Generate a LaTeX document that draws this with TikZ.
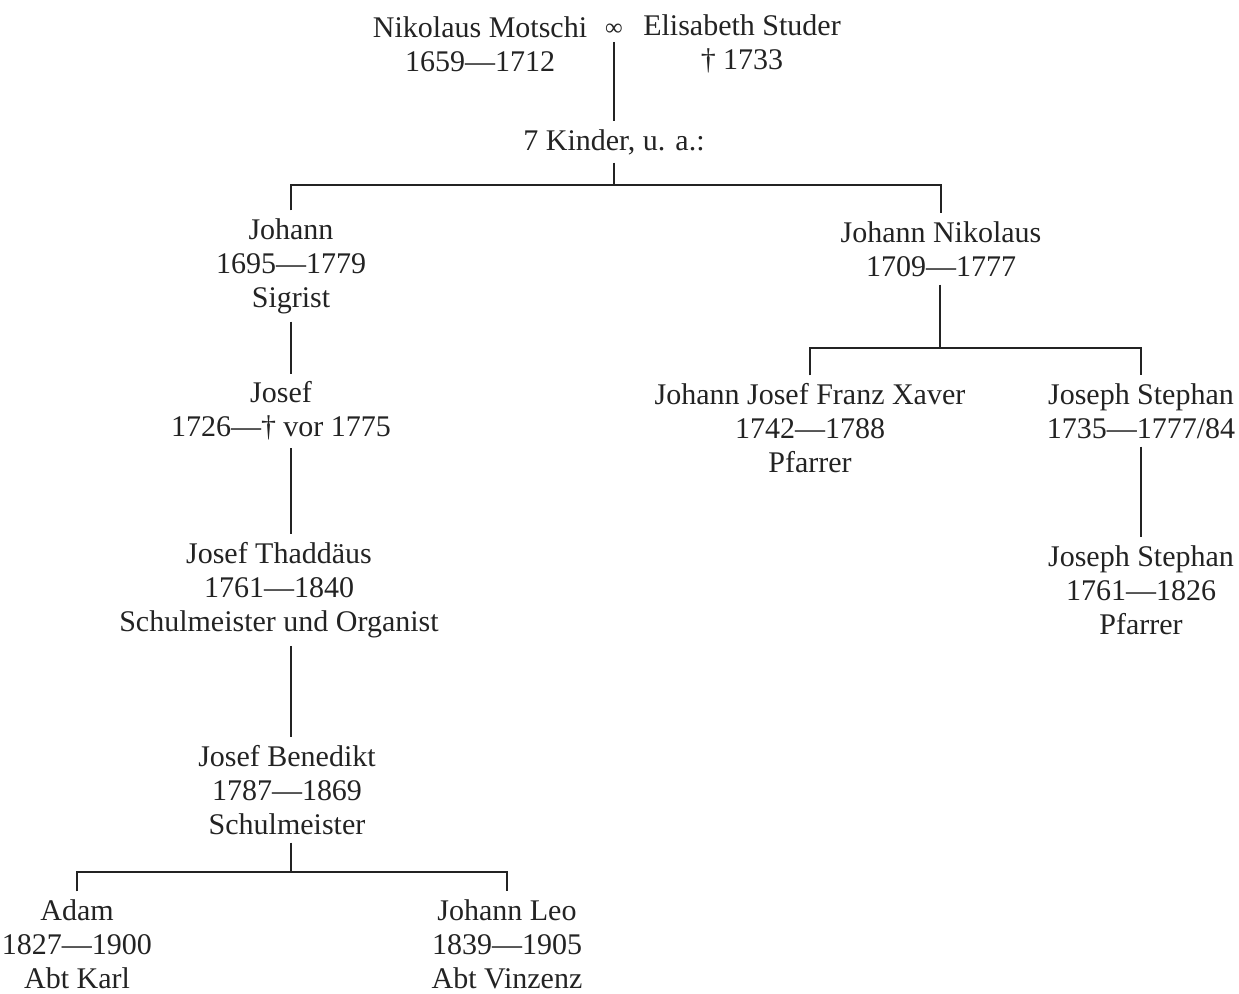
\documentclass[tikz,border=0pt]{standalone}
\usepackage{fontspec}
\setmainfont{Liberation Serif}
\definecolor{ink}{RGB}{35,35,35}
\tikzset{
  person/.style={align=center,inner sep=0pt,outer sep=4pt,text=ink,
    font=\fontsize{15}{17}\selectfont},
  stem/.style={draw=ink,line width=0.6pt}
}

\begin{document}
\begin{tikzpicture}[x=0.5pt,y=-0.5pt]
\useasboundingbox (0,0) rectangle (1239,994);

% parents
\node[person] (motschi) at (480,44) {Nikolaus Motschi\\1659—1712};
\node[person] (studer)  at (742,44) {Elisabeth Studer\\† 1733};
\node[text=ink,inner sep=0pt,outer sep=3pt,font=\fontsize{12}{12}\bfseries] (marr) at (614,30) {∞};
\node[person] (kinder)  at (614,142) {7 Kinder, u. a.:};

% first generation
\node[person] (johann) at (291,266) {Johann\\1695—1779\\Sigrist};
\node[person] (jnik)   at (941,249) {Johann Nikolaus\\1709—1777};

% line of Johann
\node[person] (josef)  at (281,411) {Josef\\1726—† vor 1775};
\node[person] (thad)   at (279,590) {Josef Thaddäus\\1761—1840\\Schulmeister und Organist};
\node[person] (bened)  at (287,790) {Josef Benedikt\\1787—1869\\Schulmeister};
\node[person] (adam)   at (77,944)  {Adam\\1827—1900\\Abt Karl};
\node[person] (leo)    at (507,944) {Johann Leo\\1839—1905\\Abt Vinzenz};

% line of Johann Nikolaus
\node[person] (xaver)    at (810,428)  {Johann Josef Franz Xaver\\1742—1788\\Pfarrer};
\node[person] (stephan)  at (1141,411) {Joseph Stephan\\1735—1777/84};
\node[person] (stephanb) at (1141,590) {Joseph Stephan\\1761—1826\\Pfarrer};

\coordinate (forka) at (614,185);
\coordinate (forkb) at (940,348);
\coordinate (forkc) at (291,872);

% connectors
\draw[stem] (marr.south) -- (kinder.north);
\draw[stem] (kinder.south) -- (forka);
\draw[stem] (johann.north) |- (forka) -| (jnik.north);

\draw[stem] (johann.south) -- (johann.south |- josef.north);
\draw[stem] (josef.south -| johann.south) -- (thad.north -| johann.south);
\draw[stem] (thad.south -| johann.south) -- (bened.north -| johann.south);
\draw[stem] (bened.south -| forkc) -- (forkc);
\draw[stem] (adam.north) |- (forkc) -| (leo.north);

\draw[stem] (jnik.south -| forkb) -- (forkb);
\draw[stem] (xaver.north) |- (forkb) -| (stephan.north);
\draw[stem] (stephan.south) -- (stephanb.north);

\end{tikzpicture}
\end{document}
